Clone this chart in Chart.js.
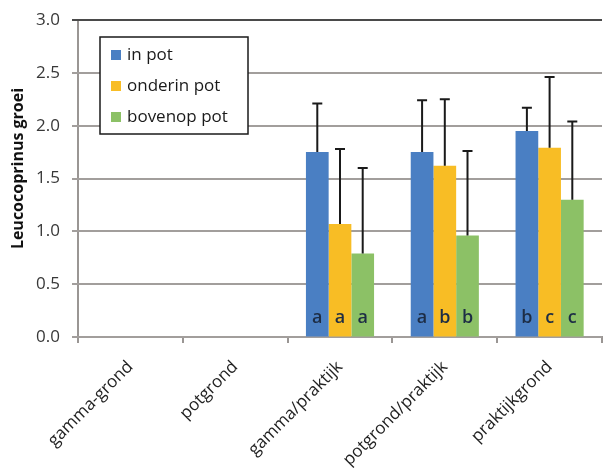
<!DOCTYPE html>
<html>
<head>
<meta charset="utf-8">
<script src="https://cdn.jsdelivr.net/npm/chart.js@4"></script>
<style>
html,body{margin:0;padding:0;background:#fff;}
#wrap{width:605px;height:472px;position:relative;}
</style>
</head>
<body>
<div id="wrap"><canvas id="c" width="605" height="472"></canvas></div>
<script>
const categories = ['gamma-grond', 'potgrond', 'gamma/praktijk', 'potgrond/praktijk', 'praktijkgrond'];
const seriesNames = ['in pot', 'onderin pot', 'bovenop pot'];
const inPot = [null, null, 1.75, 1.75, 1.95];
const onderinPot = [null, null, 1.07, 1.62, 1.79];
const bovenopPot = [null, null, 0.79, 0.96, 1.30];
const errInPot = [null, null, 0.46, 0.49, 0.22];
const errOnderinPot = [null, null, 0.71, 0.63, 0.67];
const errBovenopPot = [null, null, 0.81, 0.80, 0.74];
const lettersInPot = ['', '', 'a', 'a', 'b'];
const lettersOnderinPot = ['', '', 'a', 'b', 'c'];
const lettersBovenopPot = ['', '', 'a', 'b', 'c'];
const yMin = 0, yMax = 3, yStep = 0.5;
const yTitle = 'Leucocoprinus groei';

const colors = ['#4a7fc3', '#f8bd25', '#8cc166'];
const FONT = '"Open Sans", sans-serif';

const gridPlugin = {
  id: 'manualGrid',
  beforeDatasetsDraw(chart) {
    const ctx = chart.ctx;
    const y = chart.scales.y;
    const a = chart.chartArea;
    ctx.save();
    ctx.lineWidth = 2;
    y.ticks.forEach(t => {
      const py = Math.round(y.getPixelForValue(t.value));
      ctx.strokeStyle = t.value === yMax ? '#4a4a4a' : '#a29e9c';
      ctx.beginPath();
      ctx.moveTo(a.left - 6, py);
      ctx.lineTo(a.right, py);
      ctx.stroke();
    });
    // y axis title
    ctx.translate(18, (a.top + a.bottom) / 2 - 10);
    ctx.rotate(-Math.PI / 2);
    ctx.fillStyle = '#111';
    ctx.font = 'bold 16px ' + FONT;
    ctx.textAlign = 'center';
    ctx.textBaseline = 'middle';
    ctx.fillText(yTitle, 0, 0);
    ctx.restore();
  }
};

const errorBarPlugin = {
  id: 'errorBars',
  afterDatasetsDraw(chart) {
    const ctx = chart.ctx;
    const y = chart.scales.y;
    ctx.save();
    chart.data.datasets.forEach((ds, i) => {
      const meta = chart.getDatasetMeta(i);
      meta.data.forEach((bar, j) => {
        const v = ds.data[j];
        const e = ds.errors[j];
        if (v == null || e == null) return;
        const yTop = y.getPixelForValue(v + e);
        ctx.strokeStyle = '#1a1a1a';
        ctx.lineWidth = 2;
        ctx.beginPath();
        ctx.moveTo(bar.x, bar.y);
        ctx.lineTo(bar.x, yTop);
        ctx.moveTo(bar.x - 5, yTop);
        ctx.lineTo(bar.x + 5, yTop);
        ctx.stroke();
        const letter = ds.letters[j];
        if (letter) {
          ctx.fillStyle = '#1d2d45';
          ctx.font = '600 18px ' + FONT;
          ctx.textAlign = 'center';
          ctx.textBaseline = 'alphabetic';
          ctx.fillText(letter, bar.x, y.getPixelForValue(0) - 14);
        }
      });
    });
    ctx.restore();
  }
};

const legendBoxPlugin = {
  id: 'legendBox',
  afterDraw(chart) {
    const ctx = chart.ctx;
    const a = chart.chartArea;
    const x0 = a.left + 22, y0 = a.top + 17, w = 148, h = 97;
    ctx.save();
    ctx.fillStyle = '#fff';
    ctx.fillRect(x0, y0, w, h);
    ctx.strokeStyle = '#1a1a1a';
    ctx.lineWidth = 1.5;
    ctx.strokeRect(x0, y0, w, h);
    ctx.font = '500 17px ' + FONT;
    ctx.textBaseline = 'middle';
    ctx.textAlign = 'left';
    chart.data.datasets.forEach((ds, i) => {
      const cy = y0 + 18 + i * 31;
      ctx.fillStyle = ds.backgroundColor;
      ctx.fillRect(x0 + 11, cy - 5, 10, 10);
      ctx.fillStyle = '#1a1a1a';
      ctx.fillText(ds.label, x0 + 27, cy);
    });
    ctx.restore();
  }
};

new Chart(document.getElementById('c'), {
  type: 'bar',
  data: {
    labels: categories,
    datasets: [
      { label: seriesNames[0], data: inPot, errors: errInPot, letters: lettersInPot, backgroundColor: colors[0] },
      { label: seriesNames[1], data: onderinPot, errors: errOnderinPot, letters: lettersOnderinPot, backgroundColor: colors[1] },
      { label: seriesNames[2], data: bovenopPot, errors: errBovenopPot, letters: lettersBovenopPot, backgroundColor: colors[2] }
    ]
  },
  options: {
    responsive: false,
    animation: false,
    devicePixelRatio: 1,
    layout: { padding: { top: 20, right: 3, left: 9, bottom: 0 } },
    datasets: { bar: { categoryPercentage: 0.65, barPercentage: 1.0 } },
    plugins: { legend: { display: false }, tooltip: { enabled: false } },
    scales: {
      x: {
        offset: true,
        grid: { display: true, drawOnChartArea: false, offset: true, color: '#9a9694', lineWidth: 2, tickLength: 6 },
        border: { display: true, color: '#9a9694', width: 2 },
        ticks: { minRotation: 45, maxRotation: 45, color: '#222', font: { family: FONT, size: 17, weight: '500' }, padding: 14 },
        afterFit(s) { s.height = 135; }
      },
      y: {
        min: yMin, max: yMax,
        grid: { display: true, drawOnChartArea: false, drawTicks: true, tickLength: 10, color: 'rgba(0,0,0,0)' },
        border: { display: true, color: '#9a9694', width: 2 },
        ticks: { stepSize: yStep, color: '#383838', font: { family: FONT, size: 17, weight: '500' }, padding: 8, callback: v => Number(v).toFixed(1) },
        title: { display: false },
        afterFit(s) { s.width = 69; }
      }
    }
  },
  plugins: [gridPlugin, errorBarPlugin, legendBoxPlugin]
});
</script>
</body>
</html>
